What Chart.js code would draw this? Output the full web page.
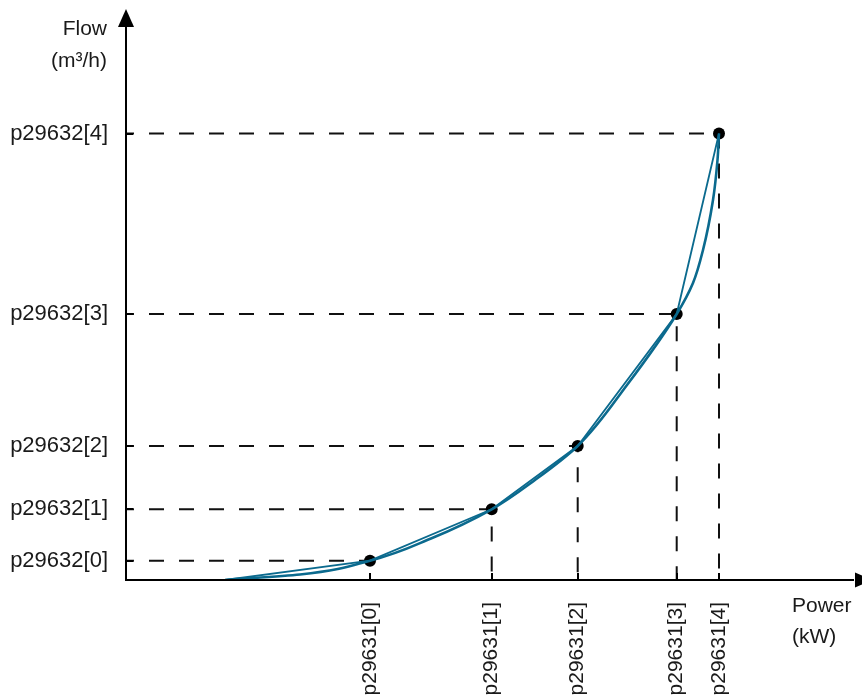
<!DOCTYPE html>
<html><head><meta charset="utf-8">
<script src="https://cdn.jsdelivr.net/npm/chart.js@4/dist/chart.umd.min.js"></script>
<style>html,body{margin:0;padding:0;background:#fff}#wrap{width:862px;height:696px}</style>
</head><body><div id="wrap"><canvas id="c" width="862" height="696"></canvas></div>
<script>
// ---- data (arbitrary units) ----
const powerTickLabels = ['p29631[0]', 'p29631[1]', 'p29631[2]', 'p29631[3]', 'p29631[4]'];
const flowTickLabels  = ['p29632[0]', 'p29632[1]', 'p29632[2]', 'p29632[3]', 'p29632[4]'];
const powerValues = [2.44, 3.657, 4.517, 5.507, 5.93];
const flowValues  = [0.193, 0.707, 1.34, 2.66, 4.465];
const curveStartPower = 0.99;
const curveStartFlow = 0;
// smooth characteristic curve
const curvePower = [0.99, 1.74, 2.44, 3.05, 3.657, 4.09, 4.517, 5.01, 5.507, 5.67, 5.77, 5.87, 5.915, 5.93];
const curveFlow  = [0.00, 0.055, 0.193, 0.415, 0.707, 1.00, 1.34, 1.95, 2.66, 2.97, 3.30, 3.80, 4.20, 4.465];
const powerAxisRange = [0, 7.36];
const flowAxisRange = [0, 5.71];
const powerTitle = ['Power', '(kW)'];
const flowTitle = ['Flow', '(m³/h)'];

const BLUE = '#0b6a8e';
const FONT = '"Liberation Sans", Arial, sans-serif';
const FS = 21;

const points = powerValues.map((x, i) => ({x, y: flowValues[i]}));
const polyline = [{x: curveStartPower, y: curveStartFlow}].concat(points);
const curve = curvePower.map((x, i) => ({x, y: curveFlow[i]}));

const dashSets = points.map(p => ({
  type: 'line',
  data: [{x: powerAxisRange[0], y: p.y}, {x: p.x, y: p.y}, {x: p.x, y: flowAxisRange[0]}],
  borderColor: '#111', borderWidth: 2, borderDash: [15, 15], borderDashOffset: 7,
  pointRadius: 0, fill: false, tension: 0, order: 5
}));

const axesPlugin = {
  id: 'axesPlugin',
  afterDraw(chart) {
    const {ctx, chartArea: a, scales} = chart;
    const xs = scales.x, ys = scales.y;
    const L = a.left, B = a.bottom, T = a.top, R = a.right;
    ctx.save();
    ctx.strokeStyle = '#000'; ctx.fillStyle = '#000'; ctx.lineWidth = 2;
    ctx.beginPath();
    ctx.moveTo(L, B + 1); ctx.lineTo(L, T + 16);
    ctx.moveTo(L - 1, B); ctx.lineTo(R - 8, B);
    ctx.stroke();
    // arrows
    ctx.beginPath();
    ctx.moveTo(L, T); ctx.lineTo(L - 8, T + 18); ctx.lineTo(L + 8, T + 18); ctx.closePath(); ctx.fill();
    ctx.beginPath();
    ctx.moveTo(R + 11, B); ctx.lineTo(R - 7, B - 7.5); ctx.lineTo(R - 7, B + 7.5); ctx.closePath(); ctx.fill();
    // ticks (inside)
    ctx.beginPath();
    flowValues.forEach(v => { const y = Math.round(ys.getPixelForValue(v)); ctx.moveTo(L, y); ctx.lineTo(L + 7, y); });
    powerValues.forEach(v => { const x = Math.round(xs.getPixelForValue(v)); ctx.moveTo(x, B); ctx.lineTo(x, B - 7); });
    ctx.stroke();
    // titles
    ctx.font = FS + 'px ' + FONT;
    ctx.fillStyle = '#1a1a1a';
    ctx.textBaseline = 'middle';
    ctx.textAlign = 'right';
    ctx.fillText(flowTitle[0], L - 19, T + 20);
    ctx.fillText(flowTitle[1], L - 19, T + 52);
    ctx.textAlign = 'left';
    ctx.fillText(powerTitle[0], R - 70, B + 26);
    ctx.fillText(powerTitle[1], R - 70, B + 57);
    ctx.restore();
  }
};

new Chart(document.getElementById('c'), {
  type: 'scatter',
  data: {
    datasets: [
      { type: 'line', data: curve, indexAxis: 'y', borderColor: BLUE, borderWidth: 2.6, pointRadius: 0,
        cubicInterpolationMode: 'monotone', fill: false, order: 0 },
      { type: 'line', data: polyline, borderColor: BLUE, borderWidth: 1.8, pointRadius: 0,
        tension: 0, fill: false, order: 1 },
      { type: 'scatter', data: points, pointRadius: 6, pointBackgroundColor: '#000',
        pointBorderWidth: 0, borderColor: '#000', order: 2 },
      ...dashSets
    ]
  },
  options: {
    responsive: false, animation: false,
    layout: { autoPadding: false, padding: { top: 9, left: 0, right: 0, bottom: 0 } },
    plugins: { legend: { display: false }, tooltip: { enabled: false } },
    scales: {
      x: {
        type: 'linear', min: powerAxisRange[0], max: powerAxisRange[1],
        grid: { display: false, drawTicks: false }, border: { display: false },
        afterBuildTicks: s => { s.ticks = powerValues.map(v => ({value: v})); },
        afterFit: s => { s.height = 116; s.paddingLeft = 0; s.paddingRight = 0; },
        ticks: { autoSkip: false, minRotation: 90, maxRotation: 90, padding: 22,
          color: '#1a1a1a', font: { family: FONT, size: FS },
          callback: (v, i) => powerTickLabels[i] }
      },
      y: {
        type: 'linear', min: flowAxisRange[0], max: flowAxisRange[1],
        grid: { display: false, drawTicks: false }, border: { display: false },
        afterBuildTicks: s => { s.ticks = flowValues.map(v => ({value: v})); },
        afterFit: s => { s.width = 126; s.paddingTop = 0; s.paddingBottom = 0; },
        ticks: { autoSkip: false, padding: 18, color: '#1a1a1a', font: { family: FONT, size: 22 },
          callback: (v, i) => flowTickLabels[i] }
      }
    }
  },
  plugins: [axesPlugin]
});
</script></body></html>
